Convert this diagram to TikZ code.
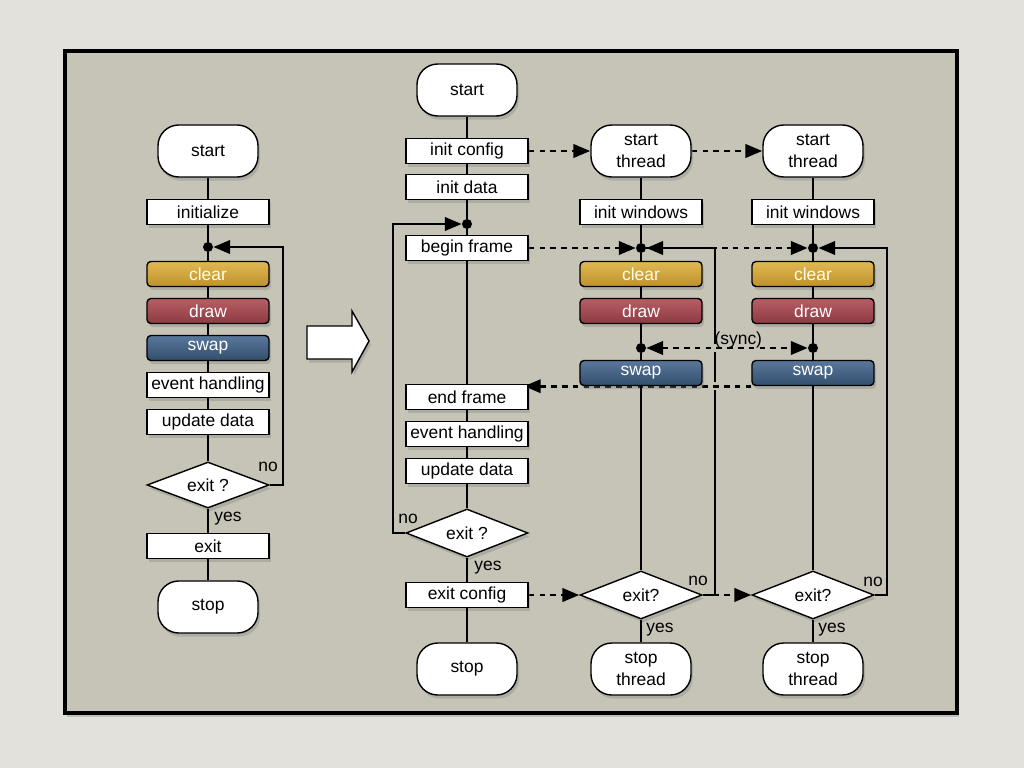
\documentclass[tikz,border=0pt]{standalone}
\usepackage{fontspec}
\setmainfont{Liberation Sans}
\usetikzlibrary{shapes.geometric,arrows.meta,shadows}

\definecolor{bgcol}{HTML}{E2E1DB}
\definecolor{panelcol}{HTML}{C6C4B6}
\definecolor{goldtop}{HTML}{E0B850}
\definecolor{goldbot}{HTML}{BE922E}
\definecolor{redtop}{HTML}{B85E64}
\definecolor{redbot}{HTML}{8C3A42}
\definecolor{bluetop}{HTML}{5A789C}
\definecolor{bluebot}{HTML}{324E6E}

\pgfdeclarelayer{panel}
\pgfdeclarelayer{lines}
\pgfsetlayers{panel,lines,main}

\tikzset{
  shade/.style={drop shadow={opacity=0.35,shadow xshift=0.05cm,shadow yshift=-0.09cm}},
  term/.style={draw,line width=1pt,fill=white,shade,rounded corners=0.52cm,
    minimum width=2.5cm,minimum height=1.3cm,align=center,
    font=\fontsize{12.4}{15.5}\selectfont},
  box/.style={draw,line width=1pt,fill=white,shade,inner sep=0pt,
    minimum width=3.05cm,minimum height=0.625cm},
  colbox/.style={box,rounded corners=0.1cm},
  clearbox/.style={colbox,top color=goldtop,bottom color=goldbot,text=white!90!yellow},
  drawbox/.style={colbox,top color=redtop,bottom color=redbot,text=white},
  swapbox/.style={colbox,top color=bluetop,bottom color=bluebot,text=white},
  decision/.style={diamond,draw,line width=1pt,fill=white,shade,inner sep=0pt,
    aspect=2.6,minimum width=3.05cm,minimum height=1.2cm},
  dot/.style={circle,fill=black,inner sep=0pt,minimum size=0.25cm},
  lbl/.style={inner sep=1pt},
  flow/.style={draw=black,line width=2.1pt},
  tip/.style={-{Triangle[length=0.42cm,width=0.33cm]}},
  dashflow/.style={flow,dash pattern=on 0.14cm off 0.13cm},
  gap/.style={preaction={draw=panelcol,line width=6pt,solid}}
}

\begin{document}
\begin{tikzpicture}[x=0.025cm,y=-0.025cm,font=\fontsize{12.4}{14}\selectfont]
  \useasboundingbox (0,0) rectangle (1024,768);
  \begin{pgfonlayer}{panel}
    \fill[bgcol] (0,0) rectangle (1024,768);
    \draw[line width=2.2pt,fill=panelcol,shade] (65,51) rectangle (957,713);
    % block arrow between the two flows
    \draw[line width=1pt,fill=white,shade] (307,326) -- (352,326) -- (352,311)
      -- (369,341) -- (352,372) -- (352,359) -- (307,359) -- cycle;
  \end{pgfonlayer}

  % single loop
  \node[term] (lstart) at (208,151) {start};
  \node[box] (linit) at (208,212) {initialize};
  \node[dot] (ldot) at (208,247) {};
  \node[clearbox] (lclear) at (208,274) {clear};
  \node[drawbox] (ldraw) at (208,311) {draw};
  \node[swapbox] (lswap) at (208,348) {swap};
  \node[box] (levent) at (208,385) {event handling};
  \node[box] (lupdate) at (208,422) {update data};
  \node[decision,minimum height=1.15cm] (lexitq) at (208,485) {exit ?};
  \node[box] (lexit) at (208,546) {exit};
  \node[term] (lstop) at (208,607) {stop};
  \node[lbl] (lno) at (268,467) {no};
  \node[lbl] (lyes) at (228,519) {yes};

  % main thread
  \node[term] (mstart) at (467,90) {start};
  \node[box] (mconfig) at (467,151) {init config};
  \node[box] (mdata) at (467,187) {init data};
  \node[dot] (mdot) at (467,224) {};
  \node[box] (mbegin) at (467,248) {begin frame};
  \node[box] (mend) at (467,397) {end frame};
  \node[box] (mevent) at (467,434) {event handling};
  \node[box] (mupdate) at (467,471) {update data};
  \node[decision] (mexitq) at (467,533) {exit ?};
  \node[box] (mexit) at (467,595) {exit config};
  \node[term] (mstop) at (467,669) {stop};
  \node[lbl] (mno) at (408,519) {no};
  \node[lbl] (myes) at (488,568) {yes};

  % render threads
  \foreach \t/\x in {a/641,b/813} {
    \node[term] (start\t) at (\x,151) {start\\thread};
    \node[box] (win\t) at (\x,212) {init windows};
    \node[dot] (dot\t) at (\x,248) {};
    \node[clearbox] (clear\t) at (\x,274) {clear};
    \node[drawbox] (draw\t) at (\x,311) {draw};
    \node[dot] (sync\t) at (\x,348) {};
    \node[swapbox] (swap\t) at (\x,373) {swap};
    \node[decision] (exitq\t) at (\x,595) {exit?};
    \node[term] (stop\t) at (\x,669) {stop\\thread};
    \node[lbl] (yes\t) at (\x+19,630) {yes};
    \coordinate (loop\t) at (\x+74,595);
  }
  \node[lbl] (noa) at (698,581) {no};
  \node[lbl] (nob) at (873,582) {no};

  \begin{scope}[every edge/.style={flow}]
    \foreach \a/\b in {lstart/linit,linit/ldot,ldot/lclear,lclear/ldraw,ldraw/lswap,
        lswap/levent,levent/lupdate,lupdate/lexitq,lexitq/lexit,lexit/lstop,
        mstart/mconfig,mconfig/mdata,mdata/mdot,mdot/mbegin,mbegin/mend,mend/mevent,
        mevent/mupdate,mupdate/mexitq,mexitq/mexit,mexit/mstop}
      \path (\a) edge (\b);
    \foreach \t in {a,b}
      \foreach \a/\b in {start/win,win/dot,dot/clear,clear/draw,draw/sync,sync/swap,
          swap/exitq,exitq/stop}
        \path (\a\t) edge (\b\t);
  \end{scope}

  \draw[flow,tip] (lexitq.east) -- (283,485) |- (ldot);
  \draw[flow,tip] (mexitq.west) -- (393,533) |- (mdot);

  \begin{pgfonlayer}{lines}
    \begin{scope}[every edge/.style={dashflow,tip}]
      \path (mconfig) edge (starta);
      \path (starta) edge (startb);
      \path (mbegin) edge (dota);
      \path (dota) edge (dotb);
      \path (mexit) edge (exitqa);
      \path (exitqa) edge (exitqb);
    \end{scope}
    \draw[flow,tip] (exitqa.east) -- (loopa) |- (dota);
    \draw[flow,tip] (exitqb.east) -- (loopb) |- (dotb);
    \draw[dashflow,gap,{Triangle[length=0.42cm,width=0.33cm]}-{Triangle[length=0.42cm,width=0.33cm]}]
      (synca) -- node[lbl,above=-2pt,pos=0.57] (synclbl) {(sync)} (syncb);
    \draw[dashflow,gap,tip,shorten >=-0.12cm] (swapb.south west) -- (swapb.south west -| mend.east);
  \end{pgfonlayer}
\end{tikzpicture}
\end{document}
